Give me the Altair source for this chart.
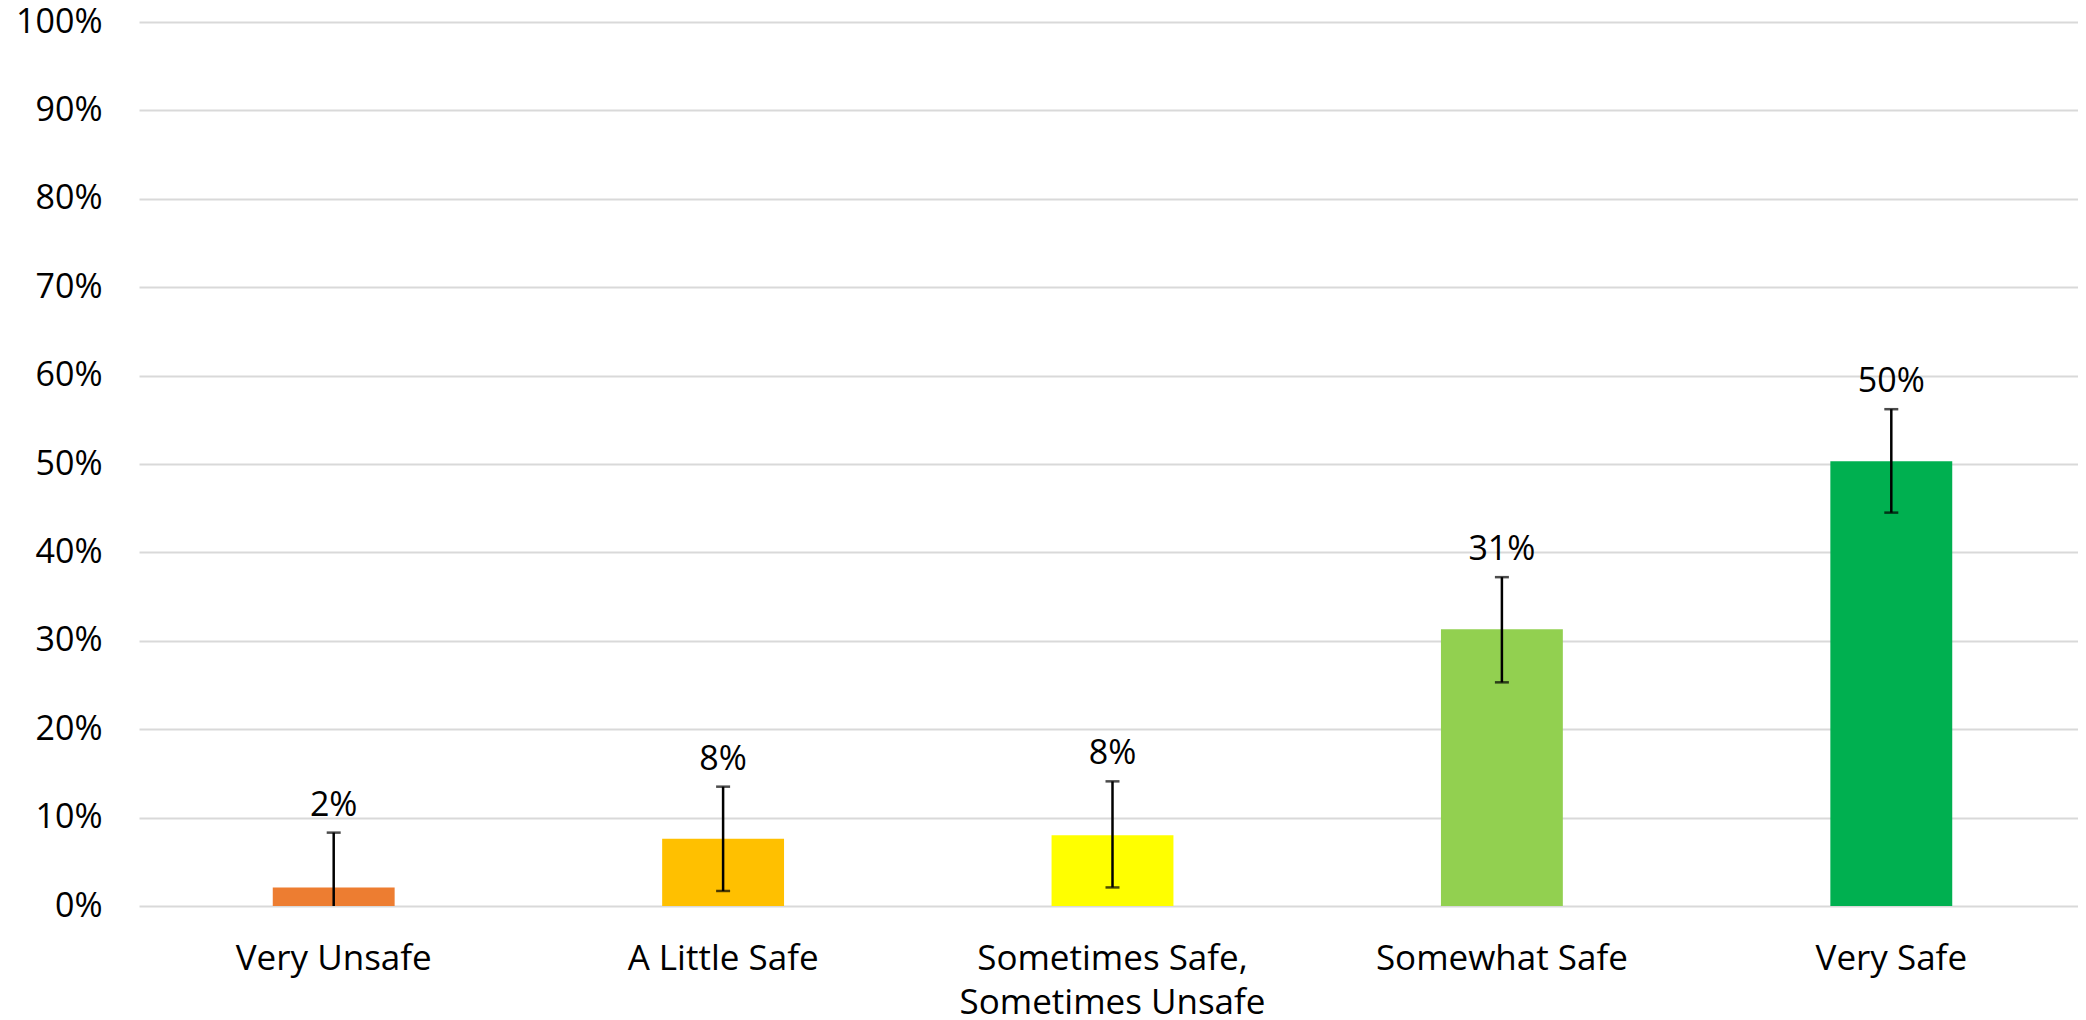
import altair as alt
import pandas as pd

# ---- data ----
categories = ["Very Unsafe", "A Little Safe", "Sometimes Safe, Sometimes Unsafe",
              "Somewhat Safe", "Very Safe"]
values = [0.021, 0.076, 0.080, 0.313, 0.503]
err_low = [0.0, 0.017, 0.021, 0.253, 0.445]
err_high = [0.083, 0.135, 0.141, 0.372, 0.562]
value_labels = ["2%", "8%", "8%", "31%", "50%"]
colors = ["#ED7D31", "#FFC000", "#FFFF00", "#92D050", "#00B050"]
y_ticks = [0.0, 0.1, 0.2, 0.3, 0.4, 0.5, 0.6, 0.7, 0.8, 0.9, 1.0]

df = pd.DataFrame({
    "category": categories,
    "value": values,
    "lo": err_low,
    "hi": err_high,
    "label": value_labels,
})

FONT = "Open Sans"
TXT = "#000000"

x_enc = alt.X(
    "category:N",
    sort=categories,
    scale=alt.Scale(range=[0, 1947], paddingInner=0.687, paddingOuter=0.3435),
    axis=alt.Axis(
        title=None, labelAngle=0, labelFont=FONT, labelFontSize=35,
        labelColor=TXT, labelPadding=35, labelLineHeight=44,
        labelLimit=600, labelOverlap=False,
        domain=False, ticks=False, grid=False,
        labelExpr="split(replace(datum.value, ', ', ',|'), '|')",
    ),
)

y_enc = alt.Y(
    "value:Q",
    scale=alt.Scale(domain=[0, 1], nice=False),
    axis=alt.Axis(
        values=y_ticks, format=".0%", title=None,
        labelFont=FONT, labelFontSize=34, labelColor=TXT, labelPadding=37,
        domain=False, ticks=False, gridColor="#D9D9D9", gridWidth=2,
    ),
)

base = alt.Chart(df)

bars = base.mark_bar().encode(
    x=x_enc,
    y=y_enc,
    color=alt.Color("category:N",
                    scale=alt.Scale(domain=categories, range=colors),
                    legend=None),
)

rule = base.mark_rule(color="black", strokeWidth=2.5).encode(
    x=alt.X("category:N", sort=categories),
    y=alt.Y("lo:Q", title=None),
    y2="hi:Q",
)

cap_hi = base.mark_tick(color="black", thickness=2.5, size=14).encode(
    x=alt.X("category:N", sort=categories),
    y=alt.Y("hi:Q", title=None),
)

cap_lo = base.transform_filter("datum.lo > 0").mark_tick(
    color="black", thickness=2.5, size=14
).encode(
    x=alt.X("category:N", sort=categories),
    y=alt.Y("lo:Q", title=None),
)

labels = base.mark_text(
    font=FONT, fontSize=34, color=TXT, baseline="middle", dy=-27
).encode(
    x=alt.X("category:N", sort=categories),
    y=alt.Y("hi:Q", title=None),
    text="label:N",
)

chart = alt.layer(bars, rule, cap_hi, cap_lo, labels).properties(
    width=1939,
    height=884,
    padding={"left": 131, "top": 14, "right": 0, "bottom": 110},
    autosize=alt.AutoSizeParams(type="none"),
    background="white",
).configure_view(stroke=None)

chart.save("out.html", embed_options={"renderer": "svg", "actions": False})
